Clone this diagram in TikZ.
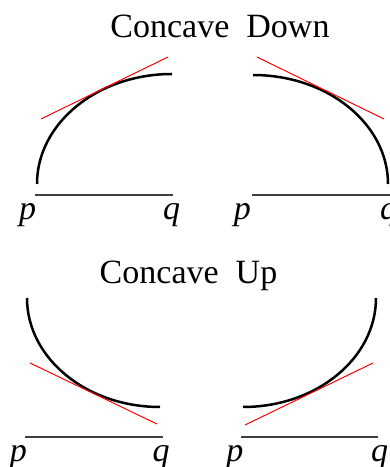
\documentclass[tikz,border=0pt]{standalone}
\usepackage{fontspec}
\setmainfont{Liberation Serif}
\begin{document}
\begin{tikzpicture}[x=0.5pt,y=0.5pt,
  curve/.style={line width=1.25pt,black},
  tangent/.style={line width=0.5pt,red},
  axis/.style={line width=0.6pt,black!75},
  title/.style={anchor=base,inner sep=0pt,font=\fontsize{17}{20}\selectfont},
  endpt/.style={anchor=base,inner sep=0pt,font=\fontsize{17}{20}\selectfont\itshape}]
\useasboundingbox (0,0) rectangle (390,467);
% titles
\node[title] (down) at (220,429) {Concave\ \ Down};
\node[title] (up) at (188.5,184) {Concave\ \ Up};
% concave down, left
\draw[axis] (35,272) -- (173,272);
\node[endpt] (p1) at (27.5,247) {p};
\node[endpt] (q1) at (171.5,247) {q};
\draw[curve] (37,283) arc[start angle=180,end angle=90,x radius=135,y radius=110];
\draw[tangent] (41,348) -- (168,410);
% concave down, right
\draw[axis] (252,272) -- (392,272);
\node[endpt] (p2) at (242.5,247) {p};
\node[endpt] (q2) at (388.5,247) {q};
\draw[curve] (253,392) arc[start angle=90,end angle=0,x radius=135,y radius=109];
\draw[tangent] (257,410) -- (384,348);
% concave up, left
\draw[axis] (25,30) -- (163,30);
\node[endpt] (p3) at (18.5,5) {p};
\node[endpt] (q3) at (161,5) {q};
\draw[curve] (27,169) arc[start angle=180,end angle=270,x radius=133,y radius=109];
\draw[tangent] (30,104) -- (157,43);
% concave up, right
\draw[axis] (241,30) -- (378,30);
\node[endpt] (p4) at (235,5) {p};
\node[endpt] (q4) at (379.5,5) {q};
\draw[curve] (243,60) arc[start angle=270,end angle=360,x radius=133,y radius=109];
\draw[tangent] (245,42) -- (373,104);
\end{tikzpicture}
\end{document}
